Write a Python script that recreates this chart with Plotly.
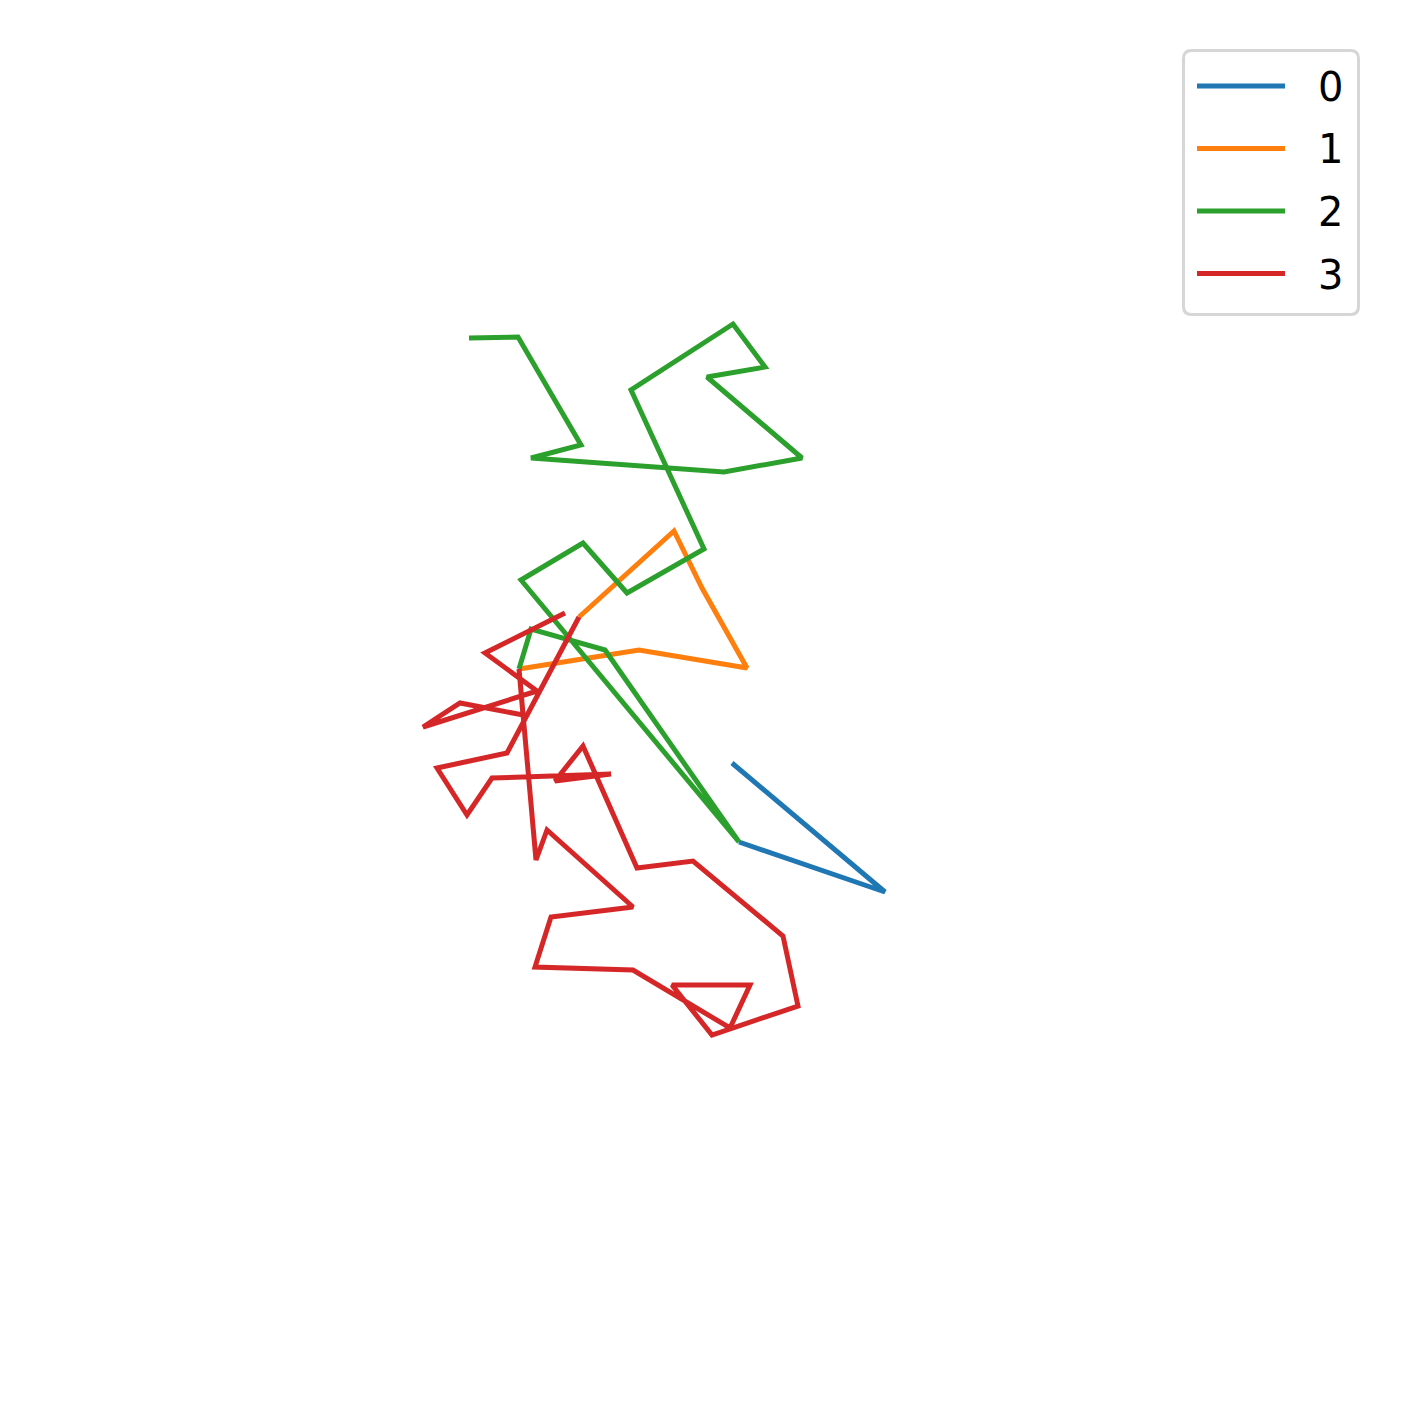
import plotly.graph_objects as go

# ---- data (arbitrary units) ----
labels = ["0", "1", "2", "3"]
colors = ["#1f77b4", "#ff7f0e", "#2ca02c", "#d62728"]

x0 = [1.54, 4.60, 1.68]
y0 = [-1.66, -4.24, -3.24]

x1 = [-2.72, -0.32, 1.84, 0.94, 0.38, -1.52]
y1 = [0.22, 0.60, 0.24, 1.84, 2.98, 1.26]

x2 = [-3.72, -2.74, -1.48, -2.48, 1.38, 2.94, 1.04, 2.20, 1.56, -0.48,
      0.98, -0.56, -1.44, -2.68, 1.68, -1.00, -2.48, -2.72]
y2 = [6.84, 6.86, 4.70, 4.44, 4.16, 4.44, 6.06, 6.26, 7.12, 5.80,
      2.62, 1.74, 2.74, 2.00, -3.24, 0.60, 1.02, 0.22]

x3 = [-1.52, -2.96, -4.36, -3.76, -3.26, -0.88, -2.00, -1.44, -0.36, 0.76,
      2.56, 2.86, 1.14, 0.34, 1.90, 1.50, -0.44, -2.40, -2.08, -0.44,
      -2.16, -2.38, -2.72, -2.64, -3.90, -4.64, -2.36, -3.40, -1.80]
y3 = [1.26, -1.46, -1.76, -2.70, -1.96, -1.88, -2.02, -1.32, -3.76, -3.62,
      -5.12, -6.52, -7.10, -6.10, -6.10, -6.96, -5.80, -5.74, -4.74, -4.54,
      -3.00, -3.60, 0.22, -0.70, -0.46, -0.94, -0.22, 0.54, 1.34]

xs = [x0, x1, x2, x3]
ys = [y0, y1, y2, y3]

W, H = 1409, 1410

fig = go.Figure()
for lab, col, xx, yy in zip(labels, colors, xs, ys):
    fig.add_trace(go.Scatter(x=xx, y=yy, mode="lines", name=lab,
                             line=dict(color=col, width=5),
                             showlegend=False, hoverinfo="skip"))

# ---- manual legend (matplotlib-like) ----
def px(x):
    return x / W

def py(y):
    return 1 - y / H

bx0, bx1, by0, by1, r = 1183.5, 1358.5, 50.5, 314.5, 8
path = (
    f"M {px(bx0 + r)} {py(by0)} L {px(bx1 - r)} {py(by0)} "
    f"Q {px(bx1)} {py(by0)} {px(bx1)} {py(by0 + r)} "
    f"L {px(bx1)} {py(by1 - r)} "
    f"Q {px(bx1)} {py(by1)} {px(bx1 - r)} {py(by1)} "
    f"L {px(bx0 + r)} {py(by1)} "
    f"Q {px(bx0)} {py(by1)} {px(bx0)} {py(by1 - r)} "
    f"L {px(bx0)} {py(by0 + r)} "
    f"Q {px(bx0)} {py(by0)} {px(bx0 + r)} {py(by0)} Z"
)
shapes = [dict(type="path", xref="paper", yref="paper", path=path,
               line=dict(color="#d6d6d6", width=3), fillcolor="white", layer="above")]
annotations = []
row_y = [86, 148.5, 211, 273.5]
for lab, col, ry in zip(labels, colors, row_y):
    shapes.append(dict(type="line", xref="paper", yref="paper",
                       x0=px(1197), x1=px(1285), y0=py(ry), y1=py(ry),
                       line=dict(color=col, width=5), layer="above"))
    annotations.append(dict(text=lab, xref="paper", yref="paper",
                            x=px(1330), y=py(ry + 1), xanchor="center", yanchor="middle",
                            showarrow=False,
                            font=dict(family="DejaVu Sans", size=40, color="black")))

fig.update_layout(
    width=W, height=H,
    margin=dict(l=0, r=0, t=0, b=0),
    paper_bgcolor="white", plot_bgcolor="white",
    xaxis=dict(range=[-13.10, 15.08], visible=False, domain=[0, 1]),
    yaxis=dict(range=[-14.60, 13.60], visible=False, domain=[0, 1]),
    shapes=shapes, annotations=annotations,
    showlegend=False,
)

fig.write_html("out.html", config={"displayModeBar": False},
               post_script="document.body.style.margin='0';")
